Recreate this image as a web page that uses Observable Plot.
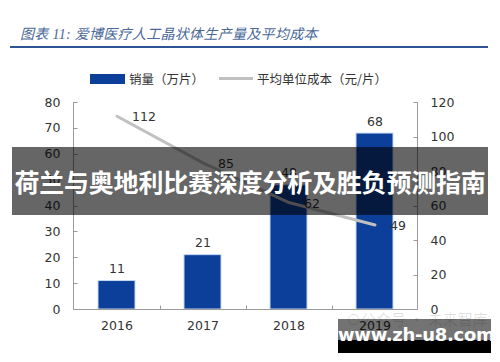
<!DOCTYPE html>
<html>
<head>
<meta charset="utf-8">
<script src="https://cdn.jsdelivr.net/npm/d3@7"></script>
<script src="https://cdn.jsdelivr.net/npm/@observablehq/plot@0.6"></script>
<style>
  html, body { margin: 0; padding: 0; background: #fff; }
  #wrap { position: relative; width: 500px; height: 362px; overflow: hidden; background: #fff; }
  #title { position: absolute; left: 20px; top: 23px; font: italic 14px "Liberation Serif", "Noto Sans CJK SC", serif; color: #4a6898; white-space: nowrap; letter-spacing: 0.3px; }
  #rule { position: absolute; left: 10px; top: 46px; width: 478px; height: 2px; background: #2d5596; }
  #legend { position: absolute; left: 90px; top: 69px; font: 12.5px "Noto Sans CJK SC", sans-serif; color: #333; display: flex; align-items: center; white-space: nowrap; }
  .sw-bar { width: 35px; height: 10px; background: #0b3f99; margin-right: 4px; }
  .sw-line { width: 34px; height: 3px; background: #c0c0c0; margin: 0 4px 0 15px; }
  #chart { position: absolute; left: 0; top: 90px; }
  #banner { position: absolute; left: 12px; top: 147px; width: 476px; height: 68px; background: rgba(0,0,0,0.6); color: #fff; font: bold 25px "Noto Sans CJK SC", sans-serif; display: flex; align-items: center; justify-content: center; white-space: nowrap; letter-spacing: -0.2px; }
  #faint { position: absolute; left: 346px; top: 308px; font: 15px "Noto Sans CJK SC", sans-serif; color: rgba(0,0,0,0.13); white-space: nowrap; }
  #wm { position: absolute; left: 338px; top: 319px; width: 153px; height: 34px; background: linear-gradient(to bottom, rgba(0,0,0,0.55) 0%, rgba(0,0,0,0.55) 62%, #000 62%, #000 100%); }
  #wmtext { position: absolute; left: 0; width: 153px; top: 5px; text-align: center; font: bold 18px "DejaVu Sans", sans-serif; color: #fff; white-space: nowrap; letter-spacing: -0.3px; }
</style>
</head>
<body>
<div id="wrap">
  <div id="title"></div>
  <div id="rule"></div>
  <div id="legend"></div>
  <div id="chart"></div>
  <div id="banner"></div>
  <div id="faint"></div>
  <div id="wm"><div id="wmtext"></div></div>
</div>
<script>
// ---- data ----
const years = ["2016", "2017", "2018", "2019"];
const sales = [11, 21, 48, 68];          // 销量（万片）, left axis
const cost = [112, 85, 62, 49];          // 平均单位成本（元/片）, right axis
const leftTicks = [0, 10, 20, 30, 40, 50, 60, 70, 80];
const rightTicks = [0, 20, 40, 60, 80, 100, 120];
const titleText = "图表 11:  爱博医疗人工晶状体生产量及平均成本";
const seriesNames = ["销量（万片）", "平均单位成本（元/片）"];
const bannerText = "荷兰与奥地利比赛深度分析及胜负预测指南";
const watermarkText = "www.zh-u8.com";
const faintText = "⊙公众号 · 未来智库";

const leftMax = 80, rightMax = 120;
const k = leftMax / rightMax;
const data = years.map((y, i) => ({year: y, sales: sales[i], cost: cost[i], costScaled: cost[i] * k}));

document.getElementById("title").textContent = titleText;
document.getElementById("banner").textContent = bannerText;
document.getElementById("wmtext").textContent = watermarkText;
document.getElementById("faint").textContent = faintText;
const lg = document.getElementById("legend");
lg.innerHTML = `<div class="sw-bar"></div><span>${seriesNames[0]}</span><div class="sw-line"></div><span>${seriesNames[1]}</span>`;

const axisColor = "#9a9a9a";

// custom mark: axis lines + inward tick marks
function axesFrame(index, scales, values, dims) {
  const {x, y} = scales;
  const g = d3.create("svg:g").attr("stroke", axisColor).attr("stroke-width", 1).attr("fill", "none");
  const xl = dims.marginLeft + 0.5, xr = dims.width - dims.marginRight + 0.5;
  const yb = y(0) + 0.5, yt = y(leftMax);
  g.append("line").attr("x1", xl).attr("x2", xl).attr("y1", yt).attr("y2", yb);
  g.append("line").attr("x1", xr).attr("x2", xr).attr("y1", yt).attr("y2", yb);
  g.append("line").attr("x1", xl).attr("x2", xr).attr("y1", yb).attr("y2", yb);
  for (const t of leftTicks) g.append("line").attr("x1", xl).attr("x2", xl + 4).attr("y1", Math.round(y(t)) + 0.5).attr("y2", Math.round(y(t)) + 0.5);
  for (const t of rightTicks) g.append("line").attr("x1", xr - 4).attr("x2", xr).attr("y1", Math.round(y(t * k)) + 0.5).attr("y2", Math.round(y(t * k)) + 0.5);
  const bw = x.bandwidth ? x.bandwidth() : 0;
  for (let i = 0; i < years.length - 1; i++) {
    const bx = Math.round((x(years[i]) + x(years[i + 1])) / 2 + bw / 2) + 0.5;
    g.append("line").attr("x1", bx).attr("x2", bx).attr("y1", yb - 4).attr("y2", yb);
  }
  return g.node();
}

const chart = Plot.plot({
  width: 500,
  height: 272,
  marginTop: 12,
  marginBottom: 53,
  marginLeft: 73,
  marginRight: 83,
  style: {fontFamily: "DejaVu Sans, sans-serif", fontSize: "12.5px", color: "#333", background: "transparent"},
  x: {domain: years, paddingInner: 0.57, paddingOuter: 0.285, axis: null, label: null},
  y: {domain: [0, leftMax], axis: null, label: null},
  marks: [
    Plot.barY(data, {x: "year", y: "sales", fill: "#0b3f99", stroke: "#c7d7f0", strokeWidth: 1}),
    axesFrame,
    Plot.axisY(leftTicks, {anchor: "left", tickSize: 0, tickPadding: 13, fontSize: 12.5, fill: "#333", label: null}),
    Plot.axisY(rightTicks.map(t => t * k), {anchor: "right", tickSize: 0, tickPadding: 13, tickFormat: d => String(Math.round(d / k)), fontSize: 12.5, fill: "#333", label: null}),
    Plot.axisX({anchor: "bottom", tickSize: 0, tickPadding: 12, fontSize: 12.5, fill: "#333", label: null}),
    Plot.text(data, {x: "year", y: "sales", text: d => String(d.sales), lineAnchor: "bottom", dy: -8, fontSize: 12.5, fill: "#333"}),
    Plot.line(data, {x: "year", y: "costScaled", stroke: "#c0c0c0", strokeWidth: 3}),
    Plot.text(data, {x: "year", y: "costScaled", text: d => String(d.cost), textAnchor: "start", dx: 15, dy: 1, fontSize: 12.5, fill: "#333"})
  ]
});
document.getElementById("chart").appendChild(chart);
</script>
</body>
</html>
